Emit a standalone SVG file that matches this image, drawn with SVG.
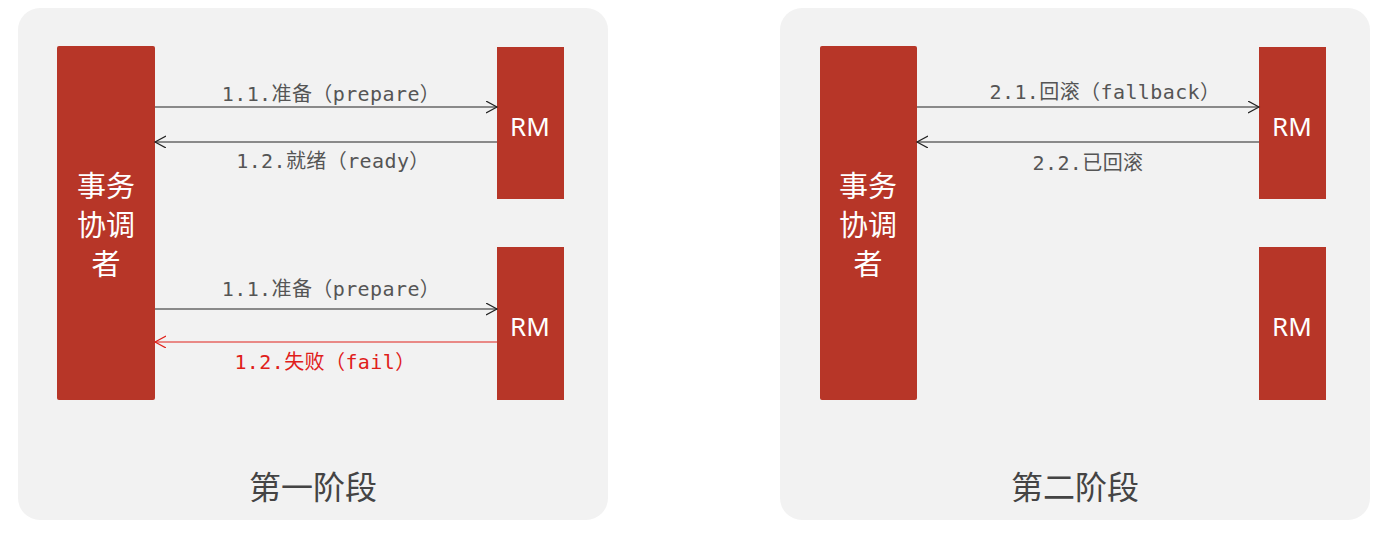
<svg xmlns="http://www.w3.org/2000/svg" width="1394" height="540" viewBox="0 0 1394 540">
<style>
.panel{fill:#f2f2f2}
.box{fill:#b73628}
.lbl{font-family:"DejaVu Sans Mono","Noto Sans CJK SC",monospace;font-size:20px;letter-spacing:0.4px;fill:#555;text-anchor:middle}
.red{fill:#e0201a}
.rm{font-family:"Noto Sans","Noto Sans CJK SC",sans-serif;font-size:26px;fill:#fff;text-anchor:middle}
.coord{font-family:"Noto Sans CJK SC",sans-serif;font-size:29px;fill:#fff;text-anchor:middle}
.title{font-family:"Noto Sans CJK SC",sans-serif;font-size:32px;fill:#444;text-anchor:middle}
.ln{stroke:#222;stroke-width:1.2;fill:none}
.lnr{stroke:#e0201a;stroke-width:1.2;fill:none}
</style>
<defs>
<marker id="ah" markerWidth="14" markerHeight="14" refX="11" refY="6" orient="auto" markerUnits="userSpaceOnUse">
<path d="M0,0 L11,6 L0,12" fill="none" stroke="#222" stroke-width="1.2"/>
</marker>
<marker id="ahr" markerWidth="14" markerHeight="14" refX="11" refY="6" orient="auto" markerUnits="userSpaceOnUse">
<path d="M0,0 L11,6 L0,12" fill="none" stroke="#e0201a" stroke-width="1.2"/>
</marker>
</defs>
<rect x="0" y="0" width="1394" height="540" fill="#fff"/>
<g id="phase1">
<rect class="panel" x="18" y="8" width="590" height="512" rx="22"/>
<text class="title" x="313" y="499">第一阶段</text>
</g>
<g id="phase2">
<rect class="panel" x="780" y="8" width="590" height="512" rx="22"/>
<text class="title" x="1075" y="499">第二阶段</text>
</g>
<g id="coord1">
<rect class="box" x="57" y="46" width="98" height="354" rx="2"/>
<text class="coord" x="106" y="197">事务</text>
<text class="coord" x="106" y="236">协调</text>
<text class="coord" x="106" y="275">者</text>
</g>
<g id="rm1a">
<rect class="box" x="497" y="47" width="67" height="152"/>
<text class="rm" x="530" y="136">RM</text>
</g>
<g id="rm1b">
<rect class="box" x="497" y="247" width="67" height="153"/>
<text class="rm" x="530" y="336">RM</text>
</g>
<g id="coord2">
<rect class="box" x="820" y="46" width="97" height="354" rx="2"/>
<text class="coord" x="868" y="197">事务</text>
<text class="coord" x="868" y="236">协调</text>
<text class="coord" x="868" y="275">者</text>
</g>
<g id="rm2a">
<rect class="box" x="1259" y="47" width="67" height="152"/>
<text class="rm" x="1292" y="136">RM</text>
</g>
<g id="rm2b">
<rect class="box" x="1259" y="247" width="67" height="153"/>
<text class="rm" x="1292" y="336">RM</text>
</g>
<g id="connectors">
<line class="ln" x1="155" y1="107" x2="497" y2="107" marker-end="url(#ah)"/>
<line class="ln" x1="497" y1="142" x2="155" y2="142" marker-end="url(#ah)"/>
<line class="ln" x1="155" y1="309" x2="497" y2="309" marker-end="url(#ah)"/>
<line class="lnr" x1="497" y1="342" x2="155" y2="342" marker-end="url(#ahr)"/>
<line class="ln" x1="917" y1="107" x2="1259" y2="107" marker-end="url(#ah)"/>
<line class="ln" x1="1259" y1="142" x2="917" y2="142" marker-end="url(#ah)"/>
<text class="lbl" x="331" y="101">1.1.准备（prepare）</text>
<text class="lbl" x="333" y="168">1.2.就绪（ready）</text>
<text class="lbl" x="331" y="296">1.1.准备（prepare）</text>
<text class="lbl red" x="325" y="369">1.2.失败（fail）</text>
<text class="lbl" x="1105" y="99">2.1.回滚（fallback）</text>
<text class="lbl" x="1088" y="170">2.2.已回滚</text>
</g>
</svg>
